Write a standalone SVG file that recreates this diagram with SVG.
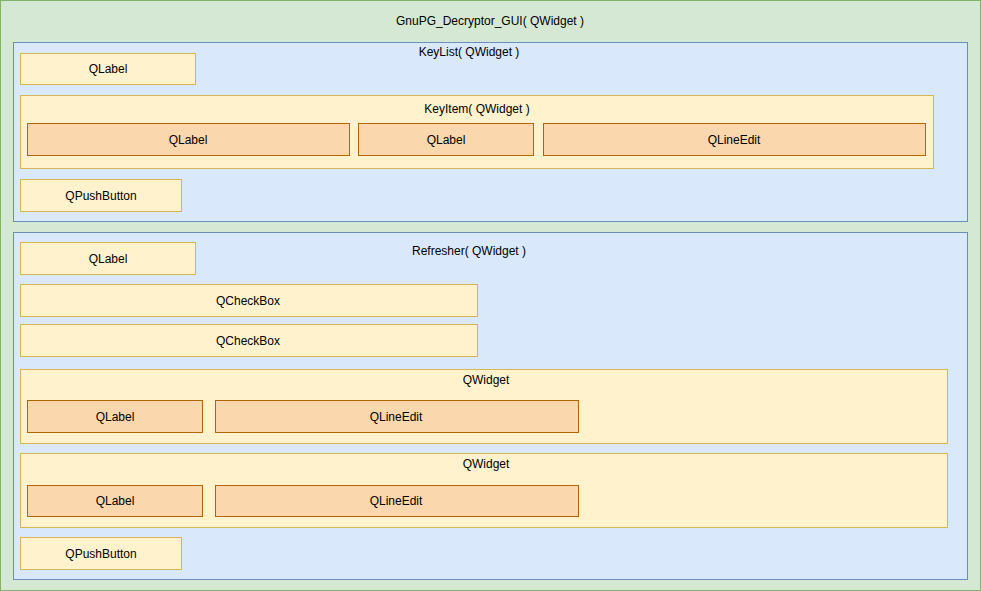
<svg xmlns="http://www.w3.org/2000/svg" width="981" height="591" viewBox="0 0 981 591">
<style>
text{font-family:"Liberation Sans",Arial,sans-serif;font-size:12px;fill:#000;text-anchor:middle;dominant-baseline:central}
.g{fill:#d5e8d4;stroke:#82b366}
.b{fill:#dae8fc;stroke:#6c8ebf}
.y{fill:#fff2cc;stroke:#d6b656}
.o{fill:#fad7ac;stroke:#b46504}
</style>
<g id="root"><rect class="g" x="0.5" y="0.5" width="980" height="590"/><text x="490" y="21">GnuPG_Decryptor_GUI( QWidget )</text></g>
<g id="keylist"><rect class="b" x="13.5" y="42.5" width="954" height="179"/><text x="469" y="52">KeyList( QWidget )</text></g>
<g id="kl-label"><rect class="y" x="20.5" y="53.5" width="175" height="31"/><text x="108" y="69">QLabel</text></g>
<g id="keyitem"><rect class="y" x="20.5" y="95.5" width="913" height="73"/><text x="477" y="109">KeyItem( QWidget )</text></g>
<g id="ki-label1"><rect class="o" x="27.5" y="123.5" width="322" height="32"/><text x="188" y="140">QLabel</text></g>
<g id="ki-label2"><rect class="o" x="358.5" y="123.5" width="175" height="32"/><text x="446" y="140">QLabel</text></g>
<g id="ki-lineedit"><rect class="o" x="543.5" y="123.5" width="382" height="32"/><text x="734" y="140">QLineEdit</text></g>
<g id="kl-button"><rect class="y" x="20.5" y="179.5" width="161" height="32"/><text x="101" y="196">QPushButton</text></g>
<g id="refresher"><rect class="b" x="13.5" y="232.5" width="954" height="347"/><text x="469" y="251">Refresher( QWidget )</text></g>
<g id="r-label"><rect class="y" x="20.5" y="242.5" width="175" height="32"/><text x="108" y="259">QLabel</text></g>
<g id="r-check1"><rect class="y" x="20.5" y="284.5" width="457" height="32"/><text x="248" y="301">QCheckBox</text></g>
<g id="r-check2"><rect class="y" x="20.5" y="324.5" width="457" height="32"/><text x="248" y="341">QCheckBox</text></g>
<g id="r-widget1"><rect class="y" x="20.5" y="369.5" width="927" height="74"/><text x="486" y="380">QWidget</text></g>
<g id="w1-label"><rect class="o" x="27.5" y="400.5" width="175" height="32"/><text x="115" y="417">QLabel</text></g>
<g id="w1-lineedit"><rect class="o" x="215.5" y="400.5" width="363" height="32"/><text x="396" y="417">QLineEdit</text></g>
<g id="r-widget2"><rect class="y" x="20.5" y="453.5" width="927" height="74"/><text x="486" y="464">QWidget</text></g>
<g id="w2-label"><rect class="o" x="27.5" y="485.5" width="175" height="31"/><text x="115" y="501">QLabel</text></g>
<g id="w2-lineedit"><rect class="o" x="215.5" y="485.5" width="363" height="31"/><text x="396" y="501">QLineEdit</text></g>
<g id="r-button"><rect class="y" x="20.5" y="537.5" width="161" height="32"/><text x="101" y="554">QPushButton</text></g>
<g id="connectors"></g>
</svg>
